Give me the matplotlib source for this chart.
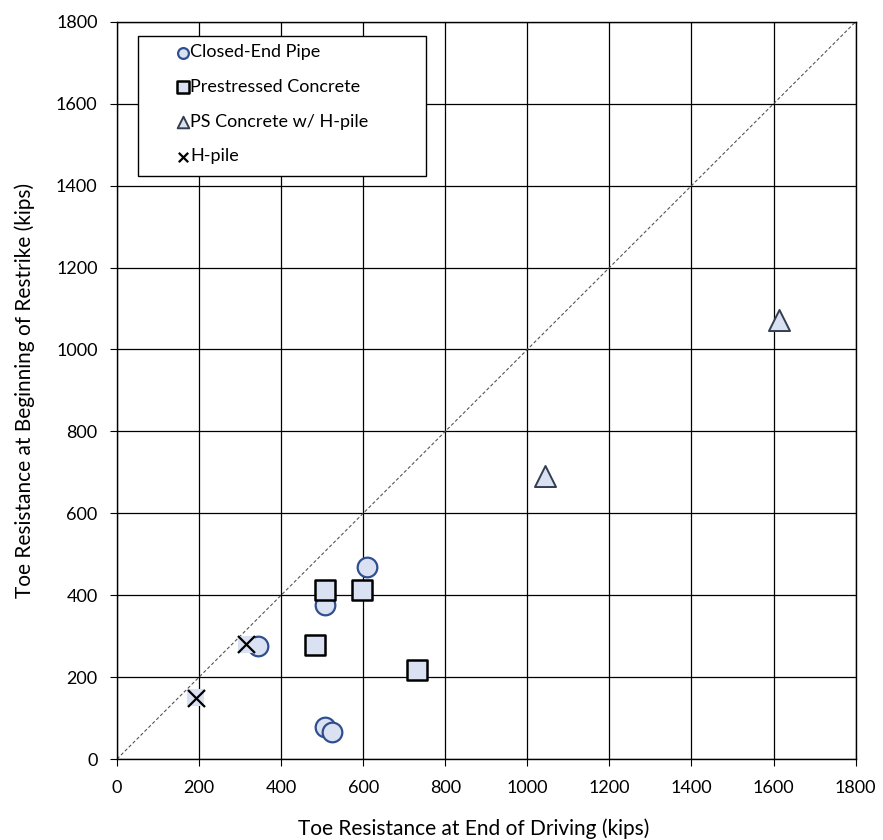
import matplotlib.pyplot as plt
from matplotlib.patches import Rectangle

# data (kips)
pipe_x = [344, 507, 609, 507, 525]
pipe_y = [277, 376, 469, 79, 66]
psc_x = [507, 596, 483, 730]
psc_y = [412, 412, 278, 218]
psh_x = [1044, 1613]
psh_y = [692, 1073]
hpile_x = [192, 315]
hpile_y = [150, 280]

ticks = list(range(0, 2000, 200))

plt.rcParams['font.family'] = ['Lato', 'DejaVu Sans']

fig = plt.figure(figsize=(8.83, 8.40), dpi=100)
ax = fig.add_axes([0.1325, 0.0964, 0.8365, 0.8776])

fill = '#D9E1F2'
ax.plot([0, 1800], [0, 1800], ls=(0, (3, 2)), color='#555555', lw=0.8, zorder=2)

ax.scatter(pipe_x, pipe_y, marker='o', s=200, facecolor=fill,
           edgecolor='#2F4F8F', linewidths=1.6, label='Closed-End Pipe', zorder=3)
ax.scatter(psc_x, psc_y, marker='s', s=220, facecolor=fill,
           edgecolor='black', linewidths=1.8, label='Prestressed Concrete', zorder=3)
ax.scatter(psh_x, psh_y, marker='^', s=230, facecolor=fill,
           edgecolor='#333F50', linewidths=1.4, label='PS Concrete w/ H-pile', zorder=3)
# light square behind each cross, as in the spreadsheet rendering
ax.scatter(hpile_x, hpile_y, marker='s', s=150, facecolor=fill,
           edgecolor='none', zorder=4)
ax.scatter(hpile_x, hpile_y, marker='x', s=150, c='black', linewidths=1.6,
           label='H-pile', zorder=5)

ax.set_xlim(0, 1800)
ax.set_ylim(0, 1800)
ax.set_xticks(ticks)
ax.set_yticks(ticks)
ax.grid(True, color='black', lw=0.9)
ax.set_axisbelow(True)
for s in ax.spines.values():
    s.set_color('black')
    s.set_linewidth(1.0)
ax.tick_params(labelsize=13, length=5, direction='out')
ax.tick_params(axis='x', pad=10)
ax.tick_params(axis='y', pad=9)

ax.set_xlabel('Toe Resistance at End of Driving (kips)', fontsize=15)
ax.set_ylabel('Toe Resistance at Beginning of Restrike (kips)', fontsize=15)
ax.xaxis.set_label_coords(0.483, -0.08)
ax.yaxis.set_label_coords(-0.111, 0.5)

# legend box drawn separately so its size matches the original
ax.add_patch(Rectangle((0.0284, 0.791), 0.3897, 0.19, transform=ax.transAxes,
                       facecolor='white', edgecolor='black', lw=1.0, zorder=6))
h, l = ax.get_legend_handles_labels()
leg = ax.legend(h, l, loc='upper left', bbox_to_anchor=(0.0832, 0.9693),
                fontsize=13, markerscale=0.55, handlelength=0.5,
                handletextpad=0.15, labelspacing=1.03, borderpad=0,
                borderaxespad=0, frameon=False)
leg.set_zorder(7)

fig.savefig('out.png', dpi=100)
